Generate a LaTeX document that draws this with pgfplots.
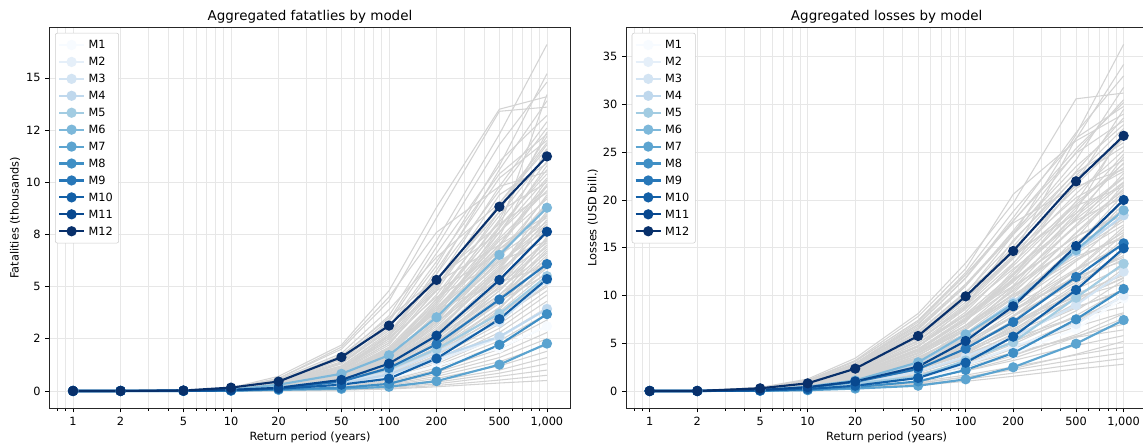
\documentclass[border=0pt]{standalone}
\usepackage{fontspec}
\setmainfont{DejaVu Sans}
\usepackage{pgfplots}
\usepackage{pgfplotstable}
\pgfplotsset{compat=1.18}
\pgfplotsset{/pgf/number format/assume math mode=true}

% Blues colour ramp for the twelve models
\definecolor{mc1}{RGB}{247,251,255}
\definecolor{mc2}{RGB}{229,239,249}
\definecolor{mc3}{RGB}{211,228,243}
\definecolor{mc4}{RGB}{191,216,237}
\definecolor{mc5}{RGB}{162,204,226}
\definecolor{mc6}{RGB}{125,184,218}
\definecolor{mc7}{RGB}{92,164,208}
\definecolor{mc8}{RGB}{63,143,197}
\definecolor{mc9}{RGB}{39,119,184}
\definecolor{mc10}{RGB}{19,96,167}
\definecolor{mc11}{RGB}{8,72,143}
\definecolor{mc12}{RGB}{8,48,107}
\definecolor{gridc}{RGB}{231,231,231}
\definecolor{simgray}{RGB}{211,211,211}

% ---------- fatalities (thousands), one row per curve ----------
\pgfplotstableread{
id  c1 c2 c3   c4   c5   c6   c7   c8   c9   c10
rp  1  2  5    10   20   50   100  200  500  1000
g1  0  0  0.02 0.10 0.50 1.60 3.60 7.20 12.3 16.6
g2  0  0  0.02 0.15 0.70 2.20 4.80 8.80 13.5 14.1
g3  0  0  0.02 0.12 0.60 2.00 4.30 8.30 13.4 13.6
g4  0  0  0.01 0.10 0.45 1.40 3.30 6.60 10.8 15.2
g5  0  0  0.01 0.09 0.40 1.30 3.00 6.00 11.0 13.2
g6  0  0  0.01 0.08 0.38 1.20 2.80 5.60 9.60 12.6
g7  0  0  0.01 0.08 0.35 1.15 2.60 5.80 10.2 12.0
g8  0  0  0.01 0.07 0.32 1.05 2.40 5.00 8.80 11.8
g9  0  0  0.01 0.07 0.30 1.00 2.30 4.60 8.40 11.3
g10 0  0  0.01 0.06 0.30 0.95 2.20 4.90 9.40 10.9
g11 0  0  0.01 0.06 0.28 0.90 2.10 4.40 7.80 10.6
g12 0  0  0.01 0.06 0.26 0.85 1.90 4.10 7.60 10.2
g13 0  0  0.01 0.05 0.25 0.80 1.85 4.00 7.00 9.90
g14 0  0  0.01 0.05 0.24 0.78 1.80 3.80 7.30 9.60
g15 0  0  0.01 0.05 0.22 0.72 1.70 3.60 6.60 9.30
g16 0  0  0.01 0.05 0.22 0.70 1.60 3.40 6.40 9.00
g17 0  0  0.01 0.04 0.20 0.66 1.55 3.30 6.80 8.70
g18 0  0  0.01 0.04 0.20 0.62 1.45 3.10 5.90 8.40
g19 0  0  0.01 0.04 0.18 0.60 1.40 3.00 5.60 8.20
g20 0  0  0.01 0.04 0.18 0.58 1.35 2.90 5.70 7.90
g21 0  0  0.01 0.04 0.16 0.55 1.30 2.70 5.20 7.60
g22 0  0  0.01 0.03 0.16 0.52 1.20 2.60 5.00 7.30
g23 0  0  0.01 0.03 0.15 0.50 1.15 2.50 4.80 7.00
g24 0  0  0.01 0.03 0.14 0.46 1.10 2.40 4.60 6.80
g25 0  0  0.01 0.03 0.14 0.45 1.05 2.20 4.40 6.50
g26 0  0  0.01 0.03 0.13 0.42 1.00 2.10 4.20 6.20
g27 0  0  0.01 0.03 0.12 0.40 0.95 2.00 4.00 5.90
g28 0  0  0    0.02 0.12 0.38 0.90 1.90 3.80 5.70
g29 0  0  0    0.02 0.11 0.36 0.85 1.80 3.60 5.40
g30 0  0  0    0.02 0.10 0.34 0.80 1.70 3.40 5.10
g31 0  0  0    0.02 0.10 0.32 0.75 1.60 3.20 4.80
g32 0  0  0    0.02 0.09 0.30 0.70 1.50 3.00 4.60
g33 0  0  0    0.02 0.09 0.28 0.65 1.40 2.80 4.30
g34 0  0  0    0.02 0.08 0.26 0.60 1.30 2.60 4.00
g35 0  0  0    0.01 0.07 0.24 0.55 1.20 2.40 3.70
g36 0  0  0    0.01 0.07 0.22 0.50 1.10 2.20 3.40
g37 0  0  0    0.01 0.06 0.20 0.45 1.00 2.00 3.10
g38 0  0  0    0.01 0.05 0.18 0.40 0.90 1.80 2.80
g39 0  0  0    0.01 0.05 0.16 0.36 0.80 1.60 2.50
g40 0  0  0    0.01 0.04 0.14 0.32 0.70 1.40 2.20
g41 0  0  0    0.01 0.04 0.12 0.28 0.60 1.20 1.90
g42 0  0  0    0.01 0.03 0.10 0.24 0.50 1.00 1.60
g43 0  0  0    0.01 0.03 0.09 0.20 0.42 0.85 1.30
g44 0  0  0    0    0.02 0.07 0.16 0.34 0.70 1.00
g45 0  0  0    0    0.02 0.05 0.12 0.26 0.52 0.75
g46 0  0  0    0    0.01 0.04 0.09 0.20 0.38 0.50
g47 0  0  0.02 0.12 0.55 1.80 3.90 6.40 9.00 11.6
g48 0  0  0.01 0.10 0.50 1.70 3.50 5.40 7.60 9.80
g49 0  0  0.01 0.09 0.42 1.50 3.20 5.20 7.00 8.40
g50 0  0  0.01 0.05 0.26 0.70 1.60 4.20 8.20 12.4
g51 0  0  0.01 0.04 0.20 0.60 1.50 3.60 7.80 14.2
g52 0  0  0.01 0.06 0.30 1.00 2.50 4.50 6.20 7.20
g53 0  0  0.01 0.08 0.34 1.30 2.90 4.80 6.60 8.90
g54 0  0  0.01 0.06 0.28 0.95 2.70 5.40 8.00 9.50
g55 0  0  0.02 0.13 0.60 2.10 4.50 7.60 9.80 10.5
g56 0  0  0.01 0.05 0.22 0.80 2.00 3.90 5.20 6.00
g57 0  0  0.01 0.05 0.24 0.82 1.95 4.30 8.10 11.0
g58 0  0  0.01 0.04 0.21 0.68 1.62 3.70 7.00 10.1
g59 0  0  0.01 0.05 0.23 0.75 1.75 3.50 6.10 8.00
g60 0  0  0.01 0.03 0.17 0.56 1.36 3.20 6.30 9.40
g61 0  0  0.01 0.04 0.19 0.64 1.50 3.30 5.40 7.10
g62 0  0  0    0.03 0.14 0.48 1.18 2.80 5.80 8.60
g63 0  0  0.01 0.04 0.18 0.60 1.40 2.90 4.90 6.60
g64 0  0  0    0.03 0.13 0.44 1.05 2.30 5.00 7.80
g65 0  0  0    0.02 0.12 0.40 0.98 2.30 4.50 6.10
g66 0  0  0    0.02 0.10 0.35 0.86 2.00 4.30 7.40
g67 0  0  0    0.02 0.11 0.36 0.88 1.90 3.50 5.00
g68 0  0  0.01 0.06 0.29 0.92 2.05 4.00 6.80 8.30
g69 0  0  0.01 0.07 0.31 1.10 2.60 5.20 9.80 12.9
g70 0  0  0    0.02 0.09 0.30 0.74 1.70 3.90 6.40
g71 0  0  0.01 0.06 0.27 0.88 2.00 4.20 7.90 10.4
g72 0  0  0.01 0.05 0.23 0.76 1.80 3.90 7.40 11.6
g73 0  0  0.01 0.07 0.33 1.10 2.50 5.10 8.60 10.0
g74 0  0  0.01 0.04 0.19 0.62 1.50 3.40 6.90 9.80
g75 0  0  0.01 0.05 0.21 0.70 1.65 3.50 6.20 7.70
g76 0  0  0.01 0.04 0.17 0.55 1.30 2.90 5.90 8.90
g77 0  0  0.01 0.06 0.25 0.80 1.90 3.80 6.50 8.10
g78 0  0  0.01 0.03 0.15 0.50 1.20 2.70 5.50 8.00
g79 0  0  0.01 0.05 0.22 0.74 1.70 3.30 5.80 7.50
g80 0  0  0    0.03 0.13 0.43 1.02 2.30 4.80 7.20
g81 0  0  0.01 0.04 0.18 0.58 1.35 2.80 5.10 6.90
g82 0  0  0    0.02 0.11 0.38 0.92 2.10 4.40 6.70
g83 0  0  0.01 0.04 0.17 0.56 1.30 2.60 4.60 6.30
g84 0  0  0    0.02 0.10 0.33 0.80 1.85 4.00 6.00
g85 0  0  0.01 0.08 0.36 1.20 2.70 5.60 10.6 13.9
g86 0  0  0.01 0.07 0.30 0.98 2.30 4.80 9.00 11.9
g87 0  0  0.01 0.06 0.26 0.84 2.00 4.40 8.60 12.2
g88 0  0  0.01 0.05 0.24 0.80 1.85 3.90 7.20 9.20
g89 0  0  0    0.03 0.14 0.46 1.08 2.35 4.30 5.60
g90 0  0  0    0.02 0.12 0.39 0.90 1.95 3.70 5.30
g91 0  0  0.02 0.11 0.48 1.55 3.40 6.90 11.8 14.8
g92 0  0  0.01 0.09 0.41 1.35 3.10 6.20 10.4 12.3
g93 0  0  0.01 0.05 0.24 0.70 1.55 3.60 7.60 10.8
g94 0  0  0.01 0.04 0.20 0.64 1.50 3.20 6.00 8.50
g95 0  0  0    0.03 0.15 0.50 1.15 2.55 5.30 7.60
}\fatrows
\pgfplotstabletranspose[colnames from=id]\fatgray{\fatrows}

\pgfplotstableread{
id  c1 c2 c3   c4   c5   c6   c7   c8   c9   c10
rp  1  2  5    10   20   50   100  200  500  1000
M1  0  0  0.01 0.03 0.10 0.28 0.60 1.20 2.05 3.10
M2  0  0  0.01 0.04 0.12 0.34 0.72 1.45 2.55 3.95
M3  0  0  0.01 0.05 0.15 0.42 0.90 1.85 3.30 5.30
M4  0  0  0.01 0.04 0.13 0.36 0.78 1.60 2.60 3.92
M5  0  0  0.01 0.06 0.18 0.50 1.05 2.00 3.70 5.50
M6  0  0  0.01 0.06 0.30 0.82 1.71 3.53 6.52 8.78
M7  0  0  0    0.01 0.05 0.10 0.20 0.47 1.26 2.27
M8  0  0  0    0.02 0.08 0.15 0.34 0.93 2.21 3.68
M9  0  0  0.01 0.04 0.12 0.45 1.10 2.24 4.38 6.08
M10 0  0  0.01 0.03 0.10 0.30 0.59 1.55 3.44 5.36
M11 0  0  0.01 0.05 0.15 0.53 1.31 2.65 5.32 7.63
M12 0  0  0.02 0.16 0.45 1.62 3.13 5.32 8.83 11.24
}\fatmodrows
\pgfplotstabletranspose[colnames from=id]\fatmod{\fatmodrows}

% ---------- losses (USD bill.), one row per curve ----------
\pgfplotstableread{
id  c1 c2 c3   c4   c5   c6   c7    c8    c9    c10
rp  1  2  5    10   20   50   100   200   500   1000
g1  0  0  0.29 0.91 2.36 5.81 10.16 16.34 26.86 36.3
g2  0  0  0.33 0.99 2.81 6.93 11.88 18.15 27.06 33.0
g3  0  0  0.37 1.25 3.43 8.11 13.40 19.66 30.60 31.2
g4  0  0  0.31 0.92 2.59 6.41 10.98 16.78 25.01 30.5
g5  0  0  0.24 0.74 1.92 4.72 8.26  13.28 21.83 29.5
g6  0  0  0.34 1.13 3.11 7.36 12.17 17.83 24.90 28.3
g7  0  0  0.28 0.83 2.34 5.78 9.90  15.13 22.55 27.5
g8  0  0  0.21 0.67 1.74 4.29 7.50  12.06 19.83 26.8
g9  0  0  0.31 1.04 2.86 6.76 11.18 16.38 22.88 26.0
g10 0  0  0.25 0.76 2.14 5.29 9.07  13.86 20.66 25.2
g11 0  0  0.20 0.61 1.59 3.92 6.86  11.03 18.13 24.5
g12 0  0  0.24 0.71 2.02 5.00 8.57  13.09 19.52 23.8
g13 0  0  0.28 0.92 2.53 5.98 9.89  14.49 20.24 23.0
g14 0  0  0.22 0.67 1.90 4.68 8.03  12.27 18.29 22.3
g15 0  0  0.17 0.54 1.40 3.46 6.05  9.72  15.98 21.6
g16 0  0  0.21 0.63 1.79 4.41 7.56  11.55 17.22 21.0
g17 0  0  0.24 0.81 2.23 5.28 8.73  12.79 17.86 20.3
g18 0  0  0.16 0.49 1.27 3.14 5.49  8.82  14.50 19.6
g19 0  0  0.19 0.57 1.62 3.99 6.84  10.45 15.58 19.0
g20 0  0  0.22 0.74 2.02 4.78 7.91  11.59 16.19 18.4
g21 0  0  0.18 0.53 1.51 3.74 6.41  9.79  14.60 17.8
g22 0  0  0.14 0.43 1.12 2.75 4.82  7.74  12.73 17.2
g23 0  0  0.17 0.50 1.41 3.49 5.98  9.13  13.61 16.6
g24 0  0  0.19 0.64 1.76 4.16 6.88  10.08 14.08 16.0
g25 0  0  0.15 0.46 1.31 3.23 5.54  8.47  12.63 15.4
g26 0  0  0.12 0.37 0.96 2.37 4.14  6.66  10.95 14.8
g27 0  0  0.14 0.43 1.21 2.98 5.11  7.81  11.64 14.2
g28 0  0  0.16 0.54 1.50 3.54 5.85  8.57  11.97 13.6
g29 0  0  0.13 0.39 1.11 2.73 4.68  7.15  10.66 13.0
g30 0  0  0.10 0.31 0.81 1.98 3.47  5.58  9.18  12.4
g31 0  0  0.12 0.35 1.00 2.48 4.25  6.49  9.68  11.8
g32 0  0  0.13 0.45 1.23 2.91 4.82  7.06  9.86  11.2
g33 0  0  0.11 0.32 0.90 2.23 3.82  5.83  8.69  10.6
g34 0  0  0.08 0.25 0.65 1.60 2.80  4.50  7.40  10.0
g35 0  0  0.09 0.28 0.80 1.97 3.38  5.17  7.71  9.40
g36 0  0  0.11 0.35 0.97 2.29 3.78  5.54  7.74  8.80
g37 0  0  0.08 0.25 0.70 1.72 2.95  4.51  6.72  8.20
g38 0  0  0.06 0.19 0.49 1.22 2.13  3.42  5.62  7.60
g39 0  0  0.07 0.21 0.60 1.47 2.52  3.85  5.74  7.00
g40 0  0  0.08 0.26 0.70 1.66 2.75  4.03  5.63  6.40
g41 0  0  0.06 0.17 0.49 1.22 2.09  3.19  4.76  5.80
g42 0  0  0.04 0.13 0.34 0.83 1.46  2.34  3.85  5.20
g43 0  0  0.05 0.14 0.39 0.97 1.66  2.53  3.77  4.60
g44 0  0  0.04 0.12 0.34 0.84 1.44  2.20  3.28  4.00
g45 0  0  0.03 0.10 0.29 0.71 1.22  1.87  2.79  3.40
g46 0  0  0.03 0.08 0.24 0.59 1.01  1.54  2.30  2.80
g47 0  0  0.30 1.10 3.20 7.80 12.80 20.60 26.20 29.0
g48 0  0  0.25 0.80 2.20 5.60 9.60  14.20 26.50 29.8
g49 0  0  0.30 1.00 2.90 7.20 12.20 17.60 21.40 23.2
g50 0  0  0.20 0.70 1.90 4.60 8.80  15.80 22.40 25.6
g51 0  0  0.28 0.95 2.60 6.20 10.40 14.40 18.60 22.4
g52 0  0  0.18 0.60 1.60 4.00 7.20  12.60 18.90 27.2
g53 0  0  0.22 0.75 2.00 5.00 8.00  11.00 15.20 20.6
g54 0  0  0.15 0.50 1.30 3.20 6.40  10.80 17.40 21.8
g55 0  0  0.26 0.85 2.35 5.70 9.60  14.90 21.20 24.2
g56 0  0  0.20 0.66 1.80 4.40 7.70  12.10 18.00 21.9
g57 0  0  0.17 0.55 1.50 3.70 6.60  10.60 16.50 20.8
g58 0  0  0.22 0.72 1.95 4.70 7.90  11.70 16.20 18.7
g59 0  0  0.14 0.45 1.20 3.00 5.40  9.00  14.60 19.2
g60 0  0  0.18 0.60 1.60 3.90 6.60  9.80  13.80 16.2
g61 0  0  0.12 0.40 1.08 2.70 4.80  7.90  12.60 16.9
g62 0  0  0.15 0.50 1.35 3.30 5.60  8.40  11.90 14.0
g63 0  0  0.10 0.34 0.92 2.30 4.10  6.80  11.20 15.6
g64 0  0  0.13 0.42 1.15 2.80 4.80  7.20  10.20 12.1
g65 0  0  0.09 0.30 0.80 2.00 3.60  6.00  9.80  13.4
g66 0  0  0.11 0.36 0.98 2.40 4.10  6.20  8.80  10.4
g67 0  0  0.08 0.26 0.70 1.75 3.10  5.10  8.40  11.6
g68 0  0  0.30 1.00 2.75 6.60 11.20 16.60 23.50 27.9
g69 0  0  0.07 0.22 0.60 1.50 2.70  4.40  7.20  9.90
g70 0  0  0.06 0.20 0.52 1.30 2.30  3.70  5.90  8.10
g71 0  0  0.24 0.78 2.10 5.20 8.90  13.40 19.80 23.4
g72 0  0  0.20 0.64 1.75 4.30 7.40  11.40 17.40 22.8
g73 0  0  0.26 0.86 2.40 5.80 9.60  14.00 19.40 21.4
g74 0  0  0.17 0.55 1.50 3.70 6.40  10.20 16.60 21.2
g75 0  0  0.20 0.66 1.80 4.40 7.40  10.90 15.40 18.0
g76 0  0  0.15 0.48 1.30 3.20 5.70  9.20  15.00 19.9
g77 0  0  0.18 0.60 1.65 4.00 6.80  10.00 14.40 17.4
g78 0  0  0.13 0.42 1.14 2.80 5.00  8.20  13.60 18.2
g79 0  0  0.16 0.52 1.42 3.50 5.90  8.80  12.80 15.2
g80 0  0  0.12 0.38 1.02 2.50 4.50  7.40  12.20 16.4
g81 0  0  0.14 0.46 1.25 3.05 5.20  7.80  11.40 13.8
g82 0  0  0.10 0.33 0.90 2.20 3.90  6.40  10.60 14.6
g83 0  0  0.13 0.40 1.10 2.70 4.60  6.90  10.00 12.3
g84 0  0  0.09 0.28 0.78 1.90 3.40  5.60  9.20  12.8
g85 0  0  0.32 1.05 2.90 7.00 11.80 17.80 25.40 30.2
g86 0  0  0.28 0.90 2.50 6.10 10.30 15.60 23.00 28.6
g87 0  0  0.25 0.82 2.25 5.50 9.30  14.00 21.60 26.4
g88 0  0  0.22 0.70 1.92 4.70 8.00  12.30 19.20 24.8
g89 0  0  0.11 0.35 0.95 2.30 4.00  6.30  9.60  11.9
g90 0  0  0.08 0.25 0.70 1.70 3.00  4.90  7.90  10.7
g91 0  0  0.34 1.10 3.10 7.40 12.40 18.80 26.40 34.2
g92 0  0  0.30 0.98 2.70 6.50 11.00 16.40 24.20 31.8
g93 0  0  0.19 0.62 1.70 4.20 7.40  11.80 18.60 23.9
g94 0  0  0.16 0.50 1.40 3.40 5.90  9.40  15.20 20.1
g95 0  0  0.12 0.40 1.08 2.60 4.50  7.20  11.80 15.9
}\lossrows
\pgfplotstabletranspose[colnames from=id]\lossgray{\lossrows}

\pgfplotstableread{
id  c1 c2 c3   c4   c5   c6   c7   c8    c9    c10
rp  1  2  5    10   20   50   100  200   500   1000
M1  0  0  0.05 0.15 0.40 1.20 2.30 3.90  6.50  9.70
M2  0  0  0.05 0.18 0.50 1.40 2.70 4.60  7.00  10.0
M3  0  0  0.06 0.20 0.70 2.00 3.60 5.60  9.00  12.5
M4  0  0  0.12 0.40 1.00 2.90 5.90 9.30  14.6  18.4
M5  0  0  0.08 0.30 0.80 1.50 3.20 5.10  9.77  13.33
M6  0  0  0.12 0.45 1.10 3.00 5.93 9.10  14.76 18.92
M7  0  0  0.02 0.08 0.25 0.55 1.22 2.48  4.95  7.43
M8  0  0  0.03 0.12 0.40 1.00 2.20 3.98  7.50  10.68
M9  0  0  0.10 0.35 0.95 2.30 4.43 7.22  11.94 15.46
M10 0  0  0.05 0.20 0.55 1.36 2.96 5.69  10.58 14.94
M11 0  0  0.10 0.40 1.00 2.55 5.24 8.87  15.18 20.0
M12 0  0  0.28 0.80 2.34 5.76 9.91 14.66 21.96 26.73
}\lossmodrows
\pgfplotstabletranspose[colnames from=id]\lossmod{\lossmodrows}

\pgfplotsset{
  simcurve/.style={color=simgray, line width=0.8pt, forget plot},
  modelcurve/.style={line width=1.6pt, mark=*, mark size=3pt, mark options={solid}},
  every axis title/.style={at={(axis description cs:0.5,1.0165)}, anchor=base,
    font=\fontsize{10.1}{12}\selectfont},
}

\begin{document}
\begin{tikzpicture}
\useasboundingbox (0,0) rectangle (857.25pt,336pt);

% left panel: fatalities
\begin{axis}[
  at={(37pt,29.8pt)}, anchor=south west,
  scale only axis, width=391pt, height=285.8pt,
  xmode=log, log basis x=10, xmin=0.708, xmax=1413,
  xtick={1,2,5,10,20,50,100,200,500,1000},
  xticklabels={1,2,5,10,20,50,100,200,500,{1,000}},
  minor xtick={0.8,0.9,3,4,6,7,8,9,30,40,60,70,80,90,300,400,600,700,800,900},
  xmajorgrids, xminorgrids, ymajorgrids,
  major grid style={draw=gridc, line width=0.6pt},
  minor grid style={draw=gridc, line width=0.6pt},
  tick align=outside, tick pos=left,
  major tick length=3pt, minor tick length=1.7pt,
  tick style={black, line width=0.6pt},
  axis line style={black!85, line width=0.75pt},
  tick label style={font=\fontsize{8.5}{10}\selectfont},
  label style={font=\fontsize{8.5}{10}\selectfont},
  xlabel style={at={(axis description cs:0.5,-0.084)}, anchor=base},
  xlabel={Return period (years)},
  legend style={at={(axis description cs:0,1)}, anchor=north west,
    xshift=4.3pt, yshift=-4.3pt, draw=black!20, fill=white,
    rounded corners=1.5pt, inner xsep=2pt, inner ysep=2.5pt,
    font=\fontsize{8.5}{10}\selectfont,
    nodes={inner xsep=2.5pt, inner ysep=2.95pt, text height=6.3pt, text depth=0.5pt},
    row sep=0pt},
  legend cell align=left,
  legend image code/.code={\draw[mark repeat=2,mark phase=2]
    plot coordinates {(0pt,0pt) (9.4pt,0pt) (18.8pt,0pt)};},
  ymin=-0.83, ymax=17.43,
  ytick={0,2.5,5,7.5,10,12.5,15},
  yticklabels={0,2,5,8,10,12,15},
  title={Aggregated fatatlies by model},
  ylabel={Fatalities (thousands)},
  ylabel style={at={(axis description cs:-0.0658,0.5)}, anchor=center},
]
\pgfplotsinvokeforeach{1,...,95}{\addplot[simcurve] table[x=rp, y=g#1] {\fatgray};}
\pgfplotsinvokeforeach{1,...,12}{\addplot[modelcurve, color=mc#1] table[x=rp, y=M#1] {\fatmod}; \addlegendentry{M#1}}
\end{axis}

% right panel: losses
\begin{axis}[
  at={(469.5pt,29.8pt)}, anchor=south west,
  scale only axis, width=391pt, height=285.8pt,
  xmode=log, log basis x=10, xmin=0.708, xmax=1413,
  xtick={1,2,5,10,20,50,100,200,500,1000},
  xticklabels={1,2,5,10,20,50,100,200,500,{1,000}},
  minor xtick={0.8,0.9,3,4,6,7,8,9,30,40,60,70,80,90,300,400,600,700,800,900},
  xmajorgrids, xminorgrids, ymajorgrids,
  major grid style={draw=gridc, line width=0.6pt},
  minor grid style={draw=gridc, line width=0.6pt},
  tick align=outside, tick pos=left,
  major tick length=3pt, minor tick length=1.7pt,
  tick style={black, line width=0.6pt},
  axis line style={black!85, line width=0.75pt},
  tick label style={font=\fontsize{8.5}{10}\selectfont},
  label style={font=\fontsize{8.5}{10}\selectfont},
  xlabel style={at={(axis description cs:0.5,-0.084)}, anchor=base},
  xlabel={Return period (years)},
  legend style={at={(axis description cs:0,1)}, anchor=north west,
    xshift=4.3pt, yshift=-4.3pt, draw=black!20, fill=white,
    rounded corners=1.5pt, inner xsep=2pt, inner ysep=2.5pt,
    font=\fontsize{8.5}{10}\selectfont,
    nodes={inner xsep=2.5pt, inner ysep=2.95pt, text height=6.3pt, text depth=0.5pt},
    row sep=0pt},
  legend cell align=left,
  legend image code/.code={\draw[mark repeat=2,mark phase=2]
    plot coordinates {(0pt,0pt) (9.4pt,0pt) (18.8pt,0pt)};},
  ymin=-1.81, ymax=38.1,
  ytick={0,5,...,35},
  title={Aggregated losses by model},
  ylabel={Losses (USD bill.)},
  ylabel style={at={(axis description cs:-0.0638,0.5)}, anchor=center},
]
\pgfplotsinvokeforeach{1,...,95}{\addplot[simcurve] table[x=rp, y=g#1] {\lossgray};}
\pgfplotsinvokeforeach{1,...,12}{\addplot[modelcurve, color=mc#1] table[x=rp, y=M#1] {\lossmod}; \addlegendentry{M#1}}
\end{axis}
\end{tikzpicture}
\end{document}
